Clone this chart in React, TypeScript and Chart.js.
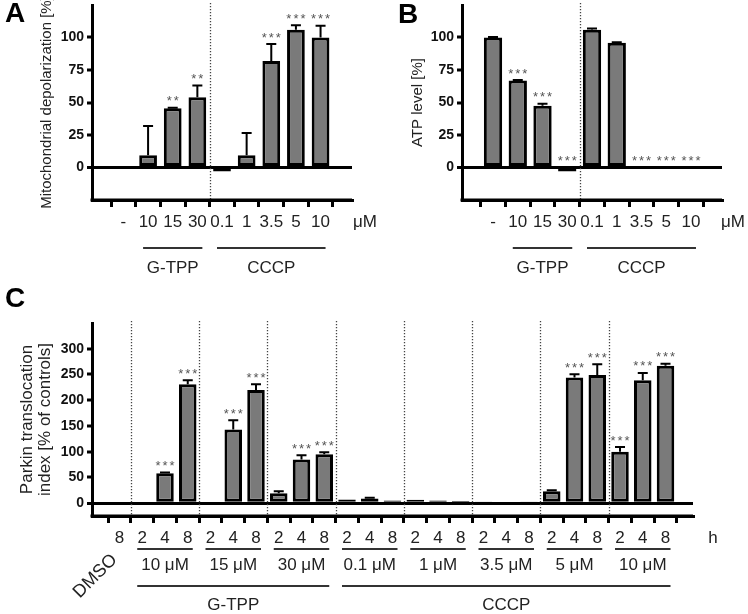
import React, { useEffect, useRef } from 'react';
import { Chart, registerables } from 'chart.js';

Chart.register(...registerables);

const FONT = "'Liberation Sans', Arial, Helvetica, sans-serif";
Chart.defaults.font.family = FONT;

// ---------- Panel A / B data ----------
const doseLabels = ['-', '10', '15', '30', '0.1', '1', '3.5', '5', '10'];
const depolValues = [-1, 9.5, 45.5, 54, -3, 9.5, 82, 106, 100];
const depolErrors = [0, 22.5, 0.5, 9, 0, 17, 13, 3.5, 9];
const depolStars = ['', '', '**', '**', '', '', '***', '***', '***'];

const atpValues = [100, 67, 47.5, -3, 106, 96, -0.5, -1, 0];
const atpErrors = [0.3, 0.3, 1.5, 0, 1, 0.3, 0, 0, 0];
const atpStars = ['', '***', '***', '***', '', '', '***', '***', '***'];

const abYTicks = [0, 25, 50, 75, 100];
const abGroups = [
  { label: 'G-TPP', from: 1, to: 3 },
  { label: 'CCCP', from: 4, to: 8 },
];
const abSeparators = [3.5];

// ---------- Panel C data ----------
const controlLabel = 'DMSO';
const timeLabels = ['8', '2', '4', '8', '2', '4', '8', '2', '4', '8', '2', '4', '8', '2', '4', '8', '2', '4', '8', '2', '4', '8', '2', '4', '8'];
const parkinValues = [0, -1, 58, 231, -1, 143, 220, 19, 85, 95, 7, 9, 5, 6.5, 5, 4, 3, 2.5, 3, 23, 244, 249, 100, 239, 267];
const parkinErrors = [0, 0, 1.5, 8, 0, 18, 11, 4, 8, 4, 0, 1.5, 0, 0, 0, 0, 0, 0, 0, 2, 6.5, 21, 9, 14, 4];
const parkinStars = ['', '', '***', '***', '', '***', '***', '', '***', '***', '', '', '', '', '', '', '', '', '', '', '***', '***', '***', '***', '***'];
const cYTicks = [0, 50, 100, 150, 200, 250, 300];
const concGroups = [
  { label: '10 μM', from: 1, to: 3 },
  { label: '15 μM', from: 4, to: 6 },
  { label: '30 μM', from: 7, to: 9 },
  { label: '0.1 μM', from: 10, to: 12 },
  { label: '1 μM', from: 13, to: 15 },
  { label: '3.5 μM', from: 16, to: 18 },
  { label: '5 μM', from: 19, to: 21 },
  { label: '10 μM', from: 22, to: 24 },
];
const compoundGroups = [
  { label: 'G-TPP', from: 1, to: 9 },
  { label: 'CCCP', from: 10, to: 24 },
];
const cSeparators = [0.5, 3.5, 6.5, 9.5, 12.5, 15.5, 18.5, 21.5];

type Group = { label: string; from: number; to: number };
type Spec = {
  letter: string; letterX: number; letterY: number;
  labels: string[]; values: number[]; errors: number[]; stars: string[];
  yMin: number; yMax: number; yTicks: number[];
  yTitle: string | string[]; yTitleSize: number; yTitlePad: number;
  yWidth: number; xHeight: number; padding: any;
  edge: number; barRatio: number; cap: number;
  separators: number[]; unit: string; unitDx: number; unitDy: number;
  groupRows: { groups: Group[]; lineDy: number; labelDy: number }[];
  rotated?: { text: string; index: number; dx: number; dy: number };
  canvas: { left: number; top: number; w: number; h: number };
};

function makeAnnot(spec: Spec) {
  return {
    id: 'annot',
    beforeDatasetsDraw(chart: any) {
      const { ctx, chartArea: a } = chart;
      const x = chart.scales.x;
      ctx.save();
      ctx.strokeStyle = '#444';
      ctx.lineWidth = 1.3;
      ctx.setLineDash([1.3, 1.7]);
      for (const sv of spec.separators) {
        const px = Math.round(x.getPixelForValue(sv)) + 0.5;
        ctx.beginPath();
        ctx.moveTo(px, a.top - 2);
        ctx.lineTo(px, a.bottom);
        ctx.stroke();
      }
      ctx.restore();
    },
    afterDatasetsDraw(chart: any) {
      const { ctx } = chart;
      const x = chart.scales.x;
      const y = chart.scales.y;
      ctx.save();
      spec.values.forEach((v, i) => {
        const err = spec.errors[i] || 0;
        const px = x.getPixelForValue(i);
        const base = Math.max(v, 0);
        if (err > 0 && v > 0) {
          const y0 = y.getPixelForValue(v);
          const y1 = y.getPixelForValue(v + err);
          ctx.strokeStyle = '#000';
          ctx.lineWidth = 2;
          ctx.beginPath();
          ctx.moveTo(px, y0);
          ctx.lineTo(px, y1);
          ctx.moveTo(px - spec.cap, y1);
          ctx.lineTo(px + spec.cap, y1);
          ctx.stroke();
        }
        const star = spec.stars[i];
        if (star) {
          const yt = y.getPixelForValue(base + err);
          ctx.fillStyle = '#555';
          ctx.font = `13px ${FONT}`;
          ctx.textAlign = 'center';
          ctx.textBaseline = 'alphabetic';
          (ctx as any).letterSpacing = '2px';
          ctx.fillText(star, px + 1, yt - 2.5);
          (ctx as any).letterSpacing = '0px';
        }
      });
      ctx.restore();
    },
    afterDraw(chart: any) {
      const { ctx, chartArea: a } = chart;
      const x = chart.scales.x;
      ctx.save();
      ctx.strokeStyle = '#000';
      ctx.lineWidth = 3;
      ctx.beginPath();
      ctx.moveTo(a.left - 1.5, a.bottom);
      ctx.lineTo(a.right, a.bottom);
      ctx.stroke();

      ctx.fillStyle = '#000';
      ctx.font = `bold 28px ${FONT}`;
      ctx.textAlign = 'left';
      ctx.textBaseline = 'alphabetic';
      ctx.fillText(spec.letter, spec.letterX, spec.letterY);

      ctx.font = `17px ${FONT}`;
      ctx.fillStyle = '#222';
      ctx.textAlign = 'center';
      ctx.textBaseline = 'middle';
      ctx.fillText(spec.unit, a.right + spec.unitDx, a.bottom + spec.unitDy);

      for (const row of spec.groupRows) {
        for (const g of row.groups) {
          const x0 = x.getPixelForValue(g.from) - 5;
          const x1 = x.getPixelForValue(g.to) + 5;
          ctx.strokeStyle = '#333';
          ctx.lineWidth = 2;
          ctx.beginPath();
          ctx.moveTo(x0, a.bottom + row.lineDy);
          ctx.lineTo(x1, a.bottom + row.lineDy);
          ctx.stroke();
          ctx.fillText(g.label, (x0 + x1) / 2, a.bottom + row.labelDy);
        }
      }
      if (spec.rotated) {
        const r = spec.rotated;
        ctx.save();
        ctx.translate(x.getPixelForValue(r.index) + r.dx, a.bottom + r.dy);
        ctx.rotate(-Math.PI / 4);
        ctx.font = `18px ${FONT}`;
        ctx.textAlign = 'right';
        ctx.textBaseline = 'middle';
        ctx.fillText(r.text, 0, 0);
        ctx.restore();
      }
      ctx.restore();
    },
  };
}

function buildChart(canvas: HTMLCanvasElement, spec: Spec) {
  const n = spec.labels.length;
  return new Chart(canvas, {
    type: 'bar',
    data: {
      datasets: [
        {
          data: spec.values.map((v, i) => ({ x: i, y: v })),
          backgroundColor: '#7a7a7a',
          borderColor: '#000',
          borderWidth: 3,
          borderSkipped: false,
          barPercentage: spec.barRatio,
          categoryPercentage: 1,
        } as any,
      ],
    },
    options: {
      animation: false,
      responsive: false,
      maintainAspectRatio: false,
      events: [],
      layout: { padding: spec.padding },
      plugins: { legend: { display: false }, tooltip: { enabled: false } },
      scales: {
        x: {
          type: 'linear',
          position: 'bottom',
          min: -spec.edge,
          max: n - 1 + spec.edge,
          afterBuildTicks: (axis: any) => {
            axis.ticks = spec.labels.map((_, i) => ({ value: i }));
          },
          afterFit: (axis: any) => {
            axis.height = spec.xHeight;
            axis.paddingLeft = 0;
            axis.paddingRight = 0;
          },
          ticks: {
            autoSkip: false,
            maxRotation: 0,
            minRotation: 0,
            padding: 5,
            font: { size: 17 },
            color: '#222',
            callback: (v: any) => spec.labels[Math.round(Number(v))] ?? '',
          },
          grid: {
            drawOnChartArea: false,
            drawTicks: true,
            tickLength: 7,
            tickWidth: 3,
            tickColor: '#000',
            color: '#000',
            lineWidth: 3,
          },
          border: { display: true, width: 3, color: '#000' },
        },
        y: {
          min: spec.yMin,
          max: spec.yMax,
          afterBuildTicks: (axis: any) => {
            axis.ticks = spec.yTicks.map((v) => ({ value: v }));
          },
          afterFit: (axis: any) => {
            axis.width = spec.yWidth;
            axis.paddingTop = 0;
            axis.paddingBottom = 0;
          },
          ticks: {
            padding: 3,
            font: { size: 14, weight: 'bold' },
            color: '#111',
          },
          grid: {
            drawOnChartArea: true,
            drawTicks: true,
            tickLength: 5,
            tickWidth: 3,
            tickColor: '#000',
            color: (c: any) => (c.tick && c.tick.value === 0 ? '#000' : 'rgba(0,0,0,0)'),
            lineWidth: (c: any) => (c.tick && c.tick.value === 0 ? 3 : 0),
          },
          border: { display: true, width: 3, color: '#000' },
          title: {
            display: true,
            text: spec.yTitle,
            color: '#222',
            font: { size: spec.yTitleSize, lineHeight: 1.1 },
            padding: { top: spec.yTitlePad, bottom: 0 },
          },
        },
      },
    } as any,
    plugins: [makeAnnot(spec)],
  });
}

const specA: Spec = {
  canvas: { left: 0, top: 0, w: 380, h: 290 },
  letter: 'A', letterX: 5, letterY: 22,
  labels: doseLabels, values: depolValues, errors: depolErrors, stars: depolStars,
  yMin: -25, yMax: 125, yTicks: abYTicks,
  yTitle: 'Mitochondrial depolarization [%]', yTitleSize: 15, yTitlePad: 38.5,
  yWidth: 92, xHeight: 90, padding: { top: 5, right: 28, left: 0, bottom: 0 },
  edge: 0.69, barRatio: 0.72, cap: 5,
  separators: abSeparators, unit: 'μM', unitDx: 13, unitDy: 22,
  groupRows: [{ groups: abGroups, lineDy: 48, labelDy: 68 }],
};

const specB: Spec = {
  canvas: { left: 380, top: 0, w: 368, h: 290 },
  letter: 'B', letterX: 18, letterY: 23,
  labels: doseLabels, values: atpValues, errors: atpErrors, stars: atpStars,
  yMin: -25, yMax: 125, yTicks: abYTicks,
  yTitle: 'ATP level [%]', yTitleSize: 15, yTitlePad: 29.5,
  yWidth: 82, xHeight: 90, padding: { top: 5, right: 26, left: 0, bottom: 0 },
  edge: 0.67, barRatio: 0.74, cap: 5,
  separators: abSeparators, unit: 'μM', unitDx: 11, unitDy: 22,
  groupRows: [{ groups: abGroups, lineDy: 48, labelDy: 68 }],
};

const specC: Spec = {
  canvas: { left: 0, top: 280, w: 748, h: 334 },
  letter: 'C', letterX: 5, letterY: 27,
  labels: timeLabels, values: parkinValues, errors: parkinErrors, stars: parkinStars,
  yMin: -25, yMax: 350, yTicks: cYTicks,
  yTitle: ['Parkin translocation', 'index [% of controls]'], yTitleSize: 17, yTitlePad: 17.6,
  yWidth: 92, xHeight: 98, padding: { top: 43, right: 55, left: 0, bottom: 0 },
  edge: 0.68, barRatio: 0.77, cap: 5,
  separators: cSeparators, unit: 'h', unitDx: 20, unitDy: 22,
  groupRows: [
    { groups: concGroups, lineDy: 33, labelDy: 49 },
    { groups: compoundGroups, lineDy: 70, labelDy: 89 },
  ],
  rotated: { text: controlLabel, index: 0, dx: -5, dy: 41 },
};

function Panel({ spec }: { spec: Spec }) {
  const ref = useRef<HTMLCanvasElement>(null);
  useEffect(() => {
    if (!ref.current) return;
    const chart = buildChart(ref.current, spec);
    return () => chart.destroy();
  }, [spec]);
  return (
    <canvas
      ref={ref}
      width={spec.canvas.w}
      height={spec.canvas.h}
      style={{
        position: 'absolute',
        left: spec.canvas.left,
        top: spec.canvas.top,
        width: spec.canvas.w,
        height: spec.canvas.h,
      }}
    />
  );
}

export default function App() {
  return (
    <div
      style={{
        position: 'absolute',
        left: 0,
        top: 0,
        width: 748,
        height: 614,
        background: '#fff',
        overflow: 'hidden',
      }}
    >
      <Panel spec={specA} />
      <Panel spec={specB} />
      <Panel spec={specC} />
    </div>
  );
}
